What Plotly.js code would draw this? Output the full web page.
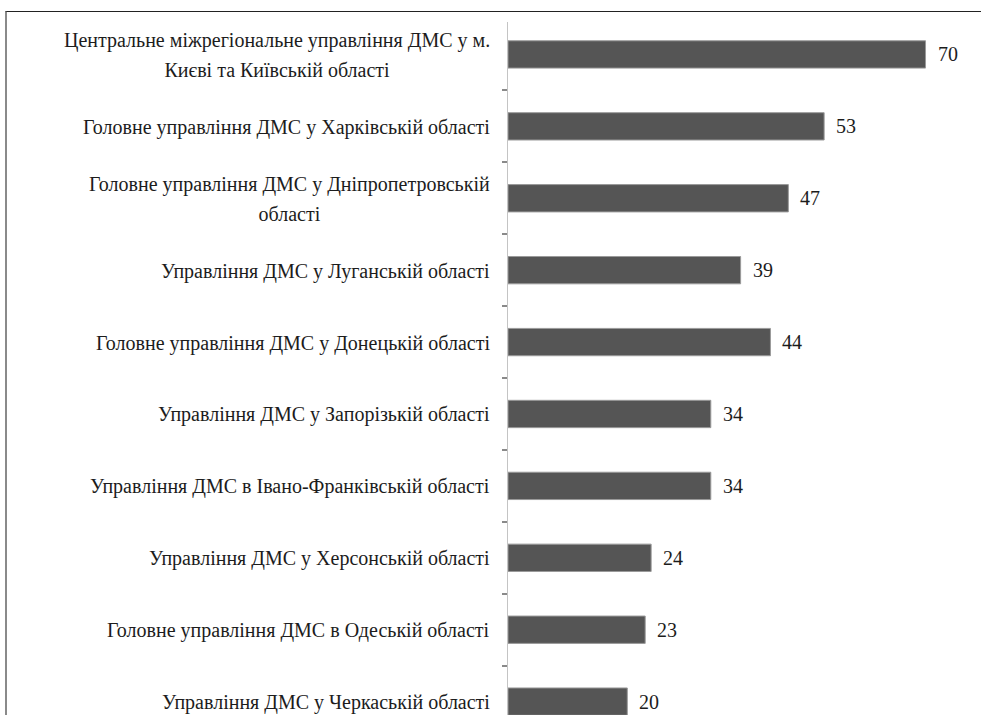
<!DOCTYPE html>
<html>
<head>
<meta charset="utf-8">
<script src="https://cdn.plot.ly/plotly-3.0.1.min.js"></script>
<style>
  html, body { margin: 0; padding: 0; background: #ffffff; }
  #wrap { position: relative; width: 981px; height: 715px; overflow: hidden; background: #ffffff; }
  #frame { position: absolute; left: 5px; top: 11px; width: 990px; height: 720px;
           border-top: 1.5px solid #222222; border-left: 2px solid #8a8a8a; }
  #chart { position: absolute; left: 0; top: 0; width: 981px; height: 715px; }
</style>
</head>
<body>
<div id="wrap">
  <div id="frame"></div>
  <div id="chart"></div>
</div>
<script>
// Categories (top to bottom), as shown in the picture
var categories = [
  "Центральне міжрегіональне управління ДМС у м.<br>Києві та Київській області",
  "Головне управління ДМС у Харківській області",
  "Головне управління ДМС у Дніпропетровській<br>області",
  "Управління ДМС у Луганській області",
  "Головне управління ДМС у Донецькій області",
  "Управління ДМС у Запорізькій області",
  "Управління ДМС в Івано-Франківській області",
  "Управління ДМС у Херсонській області",
  "Головне управління ДМС в Одеській області",
  "Управління ДМС у Черкаській області"
];
var values = [70, 53, 47, 39, 44, 34, 34, 24, 23, 20];

var FAMILY = "'Liberation Serif', 'Times New Roman', serif";

function spanned(text) {
  // keep glyphs at 20px while the outer (line-spacing) font is larger
  return text.split("<br>").map(function (t) {
    return '<span style="font-size:20px">' + t + '</span>';
  }).join("<br>");
}

var annotations = [];
categories.forEach(function (c, i) {
  annotations.push({
    xref: "paper", yref: "y", x: 0, y: c,
    xanchor: "right", yanchor: "middle", xshift: -16, yshift: -1,
    text: spanned(c), showarrow: false, align: "center",
    font: { family: FAMILY, size: 23, color: "#1c1c1c" }
  });
  annotations.push({
    xref: "x", yref: "y", x: values[i], y: c,
    xanchor: "left", yanchor: "middle", xshift: 10,
    text: String(values[i]), showarrow: false,
    font: { family: FAMILY, size: 20, color: "#1c1c1c" }
  });
});

var trace = {
  type: "bar",
  orientation: "h",
  y: categories,
  x: values,
  marker: { color: "#555555", line: { color: "#9a9a9a", width: 1 } },
  hoverinfo: "none"
};

var layout = {
  width: 981, height: 715,
  margin: { l: 508, r: 0, t: 22, b: 0, pad: 0 },
  paper_bgcolor: "rgba(0,0,0,0)",
  plot_bgcolor: "rgba(0,0,0,0)",
  showlegend: false,
  bargap: 0.62,
  font: { family: FAMILY },
  xaxis: { range: [0, 79.3], visible: false, fixedrange: true },
  yaxis: {
    type: "category",
    categoryorder: "array", categoryarray: categories,
    range: [9.186, -0.451],
    showticklabels: false,
    showline: true, linecolor: "#c4c4c4", linewidth: 1,
    ticks: "outside", ticklen: 5, tickcolor: "#8a8a8a", tickwidth: 1.5,
    tickson: "boundaries",
    showgrid: false, zeroline: false, fixedrange: true
  },
  annotations: annotations
};

Plotly.newPlot("chart", [trace], layout, { displayModeBar: false });
</script>
</body>
</html>
